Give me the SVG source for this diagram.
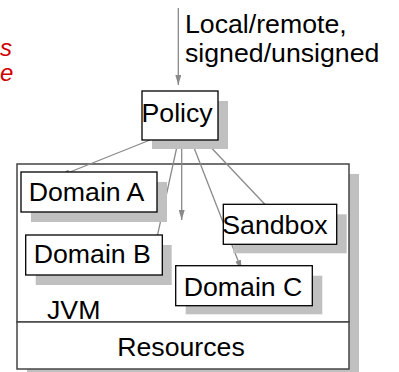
<svg xmlns="http://www.w3.org/2000/svg" width="399" height="372" viewBox="0 0 399 372">
  <style>
    text { font-family: "Liberation Sans", Arial, sans-serif; font-size: 26.7px; fill: #000; }
    .note { fill: #d00000; font-style: italic; font-size: 24px; }
    .shadow { fill: #c0c0c0; stroke: none; }
    .box { fill: #fff; stroke: #000; stroke-width: 1.3; }
    .outer { fill: #fff; stroke: #444; stroke-width: 1.5; }
    .conn { stroke: #8a8a8a; stroke-width: 1.3; fill: none; marker-end: url(#arrow); }
  </style>
  <defs>
    <marker id="arrow" viewBox="0 0 10 6" refX="10" refY="3" markerWidth="10" markerHeight="6" markerUnits="userSpaceOnUse" orient="auto">
      <path d="M0,0 L10,3 L0,6 Z" fill="#8a8a8a"/>
    </marker>
  </defs>

  <!-- red side note at the left edge -->
  <text class="note" x="0" y="56">s</text>
  <text class="note" x="0" y="81">e</text>

  <!-- JVM container with Resources strip -->
  <g id="jvm">
    <rect class="shadow" x="27" y="174" width="332" height="205"/>
    <rect class="outer" x="17" y="164" width="332" height="158"/>
    <text x="47" y="319">JVM</text>
  </g>
  <g id="resources">
    <rect class="outer" x="17" y="322" width="332" height="47"/>
    <text x="181" y="356" text-anchor="middle">Resources</text>
  </g>

  <!-- input label -->
  <g id="input">
    <text x="185" y="33">Local/remote,</text>
    <text x="185" y="62">signed/unsigned</text>
  </g>

  <!-- connectors -->
  <g id="connectors">
    <line class="conn" x1="178.3" y1="8" x2="178.3" y2="85"/>
    <line class="conn" x1="150" y1="140" x2="60" y2="176"/>
    <line class="conn" x1="178.4" y1="140" x2="155" y2="246.7"/>
    <line class="conn" x1="181.7" y1="140" x2="181.7" y2="220"/>
    <line class="conn" x1="191" y1="140" x2="241.7" y2="270"/>
    <line class="conn" x1="204" y1="140" x2="273.3" y2="213.3"/>
  </g>

  <g id="policy">
    <rect class="shadow" x="152" y="101" width="76" height="48"/>
    <rect class="box" x="142" y="91" width="76" height="49"/>
    <text x="141.5" y="122">Policy</text>
  </g>

  <g id="domainA">
    <rect class="shadow" x="31" y="182" width="136" height="40"/>
    <rect class="box" x="21" y="172" width="136" height="40"/>
    <text x="28.7" y="200.7">Domain A</text>
  </g>

  <g id="domainB">
    <rect class="shadow" x="35.7" y="245" width="136" height="40"/>
    <rect class="box" x="25.7" y="235" width="136.6" height="40"/>
    <text x="33.7" y="263.3">Domain B</text>
  </g>

  <g id="sandbox">
    <rect class="shadow" x="233.3" y="214.3" width="113.4" height="39"/>
    <rect class="box" x="223.3" y="204.3" width="113.4" height="40"/>
    <text x="222.3" y="234">Sandbox</text>
  </g>

  <g id="domainC">
    <rect class="shadow" x="185.7" y="275.7" width="136.6" height="38.6"/>
    <rect class="box" x="175.7" y="265.7" width="136.6" height="40"/>
    <text x="183.7" y="295.7">Domain C</text>
  </g>
</svg>
